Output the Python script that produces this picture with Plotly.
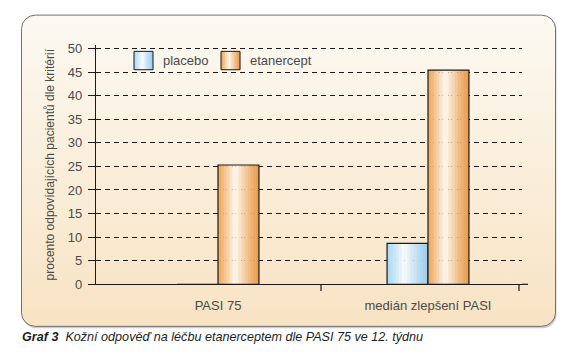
import base64
import plotly.graph_objects as go

# ---------------- data ----------------
categories = ["PASI 75", "medián zlepšení PASI"]
series_names = ["placebo", "etanercept"]
placebo_values = [0, 8.7]
etanercept_values = [25.3, 45.4]
y_tick_values = [0, 5, 10, 15, 20, 25, 30, 35, 40, 45, 50]
y_title = "procento odpovídajících pacientů dle kritérií"
caption_bold = "Graf 3"
caption_text = "Kožní odpověď na léčbu etanerceptem dle PASI 75 ve 12. týdnu"

# ---------------- style ----------------
W, H = 574, 359
FONT = "Liberation Sans, Arial, Helvetica, sans-serif"
TXT = "#4a4a4a"
edge_colors = {"placebo": ((172, 219, 243), (156, 206, 238)),
               "etanercept": ((238, 170, 96), (234, 156, 76))}


def px_x(p):
    return p / W


def px_y(p):
    return 1 - p / H


def stripe_color(name, t):
    left, right = edge_colors[name]
    hl = 0.42
    if t < hl:
        k = t / hl
        base = left
    else:
        k = (1 - t) / (1 - hl)
        base = right
    k = max(0.0, min(1.0, k)) ** 1.3
    white = (255, 250, 244) if name == "etanercept" else (250, 253, 255)
    c = [round(b + (w - b) * k) for b, w in zip(base, white)]
    return "rgb(%d,%d,%d)" % tuple(c)


svg = f'''<svg xmlns="http://www.w3.org/2000/svg" width="{W}" height="{H}" viewBox="0 0 {W} {H}" preserveAspectRatio="none">
<defs><linearGradient id="g" x1="0" y1="0" x2="0" y2="1">
<stop offset="0" stop-color="#fcf9f2"/><stop offset="1" stop-color="#f8e3c3"/></linearGradient></defs>
<rect x="22.5" y="12.5" width="534" height="323" rx="14" ry="14" fill="#9a9a9a" opacity="0.5"/>
<rect x="21.5" y="11.5" width="534" height="322" rx="14" ry="14" fill="url(#g)" stroke="#6e6e6e" stroke-width="1"/>
</svg>'''
svg_uri = "data:image/svg+xml;base64," + base64.b64encode(svg.encode()).decode()

fig = go.Figure()

bar_w = 0.195
N = 14
values = {"placebo": placebo_values, "etanercept": etanercept_values}
offsets = {"placebo": -bar_w, "etanercept": 0.0}
for name in series_names:
    for i in range(N):
        t = (i + 0.5) / N
        fig.add_trace(go.Bar(
            x=categories, y=values[name],
            width=bar_w / N * 1.02, offset=offsets[name] + i * bar_w / N,
            marker=dict(color=stripe_color(name, t), line=dict(width=0)),
            showlegend=False, hoverinfo="skip"))
    fig.add_trace(go.Bar(
        x=categories, y=values[name], width=bar_w, offset=offsets[name],
        marker=dict(color="rgba(0,0,0,0)", line=dict(color="#1a1a1a", width=1.2)),
        name=name, showlegend=False))

x0_px, x1_px = 96, 522
y_top_px, y_bot_px = 42.6, 290
center0_px, unit_px = 218, 210
xr = [(x0_px - center0_px) / unit_px, (x1_px - center0_px) / unit_px]

fig.update_layout(
    width=W, margin=dict(l=0, r=0, t=0, b=0),
    paper_bgcolor="white", plot_bgcolor="rgba(0,0,0,0)",
    barmode="overlay", showlegend=False,
    font=dict(family=FONT, color=TXT, size=13),
    xaxis=dict(domain=[px_x(x0_px), px_x(x1_px)], type="category", range=xr,
               showline=True, linecolor="#1a1a1a", linewidth=1.2,
               ticks="", showgrid=False, zeroline=False,
               tickfont=dict(size=13, color=TXT), ticklabelstandoff=9),
    yaxis=dict(domain=[px_y(y_bot_px), px_y(y_top_px)], range=[0, 50.7],
               tickmode="array", tickvals=y_tick_values,
               showline=True, linecolor="#1a1a1a", linewidth=1.2,
               ticks="outside", ticklen=7, tickcolor="#1a1a1a", tickwidth=1.2,
               showgrid=True, gridcolor="#1a1a1a", gridwidth=1, griddash="5px,4px",
               zeroline=False, tickfont=dict(size=13, color=TXT), ticklabelstandoff=3),
    images=[dict(source=svg_uri, xref="paper", yref="paper", x=0, y=1,
                 sizex=1, sizey=1, sizing="stretch", layer="below")],
)

shapes = []
shapes.append(dict(type="line", xref="paper", yref="paper",
                   x0=px_x(x1_px), x1=px_x(528), y0=px_y(y_bot_px), y1=px_y(y_bot_px),
                   line=dict(color="#1a1a1a", width=1.2)))
for tx in (321, 519):
    shapes.append(dict(type="line", xref="paper", yref="paper",
                       x0=px_x(tx), x1=px_x(tx), y0=px_y(y_bot_px), y1=px_y(y_bot_px + 7),
                       line=dict(color="#1a1a1a", width=1.2)))

legend_x = {"placebo": 134, "etanercept": 221}
sw, sy0, sy1 = 19, 49, 68
annotations = []
for name in series_names:
    lx = legend_x[name]
    M = 10
    for i in range(M):
        t = (i + 0.5) / M
        shapes.append(dict(type="rect", xref="paper", yref="paper",
                           x0=px_x(lx + i * sw / M), x1=px_x(lx + (i + 1) * sw / M + 0.3),
                           y0=px_y(sy1), y1=px_y(sy0),
                           fillcolor=stripe_color(name, t), line=dict(width=0)))
    shapes.append(dict(type="rect", xref="paper", yref="paper",
                       x0=px_x(lx), x1=px_x(lx + sw), y0=px_y(sy1), y1=px_y(sy0),
                       fillcolor="rgba(0,0,0,0)", line=dict(color="#1a1a1a", width=1)))
    annotations.append(dict(text=name, xref="paper", yref="paper",
                            x=px_x(lx + sw + 8), y=px_y((sy0 + sy1) / 2),
                            xanchor="left", yanchor="middle", showarrow=False,
                            font=dict(size=13, color=TXT)))

annotations.append(dict(text=y_title, xref="paper", yref="paper",
                        x=px_x(50), y=px_y(166), textangle=-90,
                        xanchor="center", yanchor="middle", showarrow=False,
                        font=dict(size=12, color=TXT)))
annotations.append(dict(text=f"<b><i>{caption_bold}</i></b>  <i>{caption_text}</i>",
                        xref="paper", yref="paper", x=px_x(20), y=px_y(345),
                        xanchor="left", yanchor="middle", showarrow=False,
                        font=dict(size=12.6, color="#1e1e1e")))

fig.update_layout(shapes=shapes, annotations=annotations)
post = ("var g=document.getElementById('{plot_id}');"
        "var h=document.documentElement, b=document.body;"
        "h.style.margin='0';h.style.padding='0';h.style.overflow='hidden';"
        "b.style.margin='0';b.style.padding='0';b.style.overflow='hidden';"
        "g.style.position='fixed';g.style.left='0px';g.style.top='0px';")
fig.write_html("out.html", post_script=post, config={"displayModeBar": False},
               default_height="100vh")
